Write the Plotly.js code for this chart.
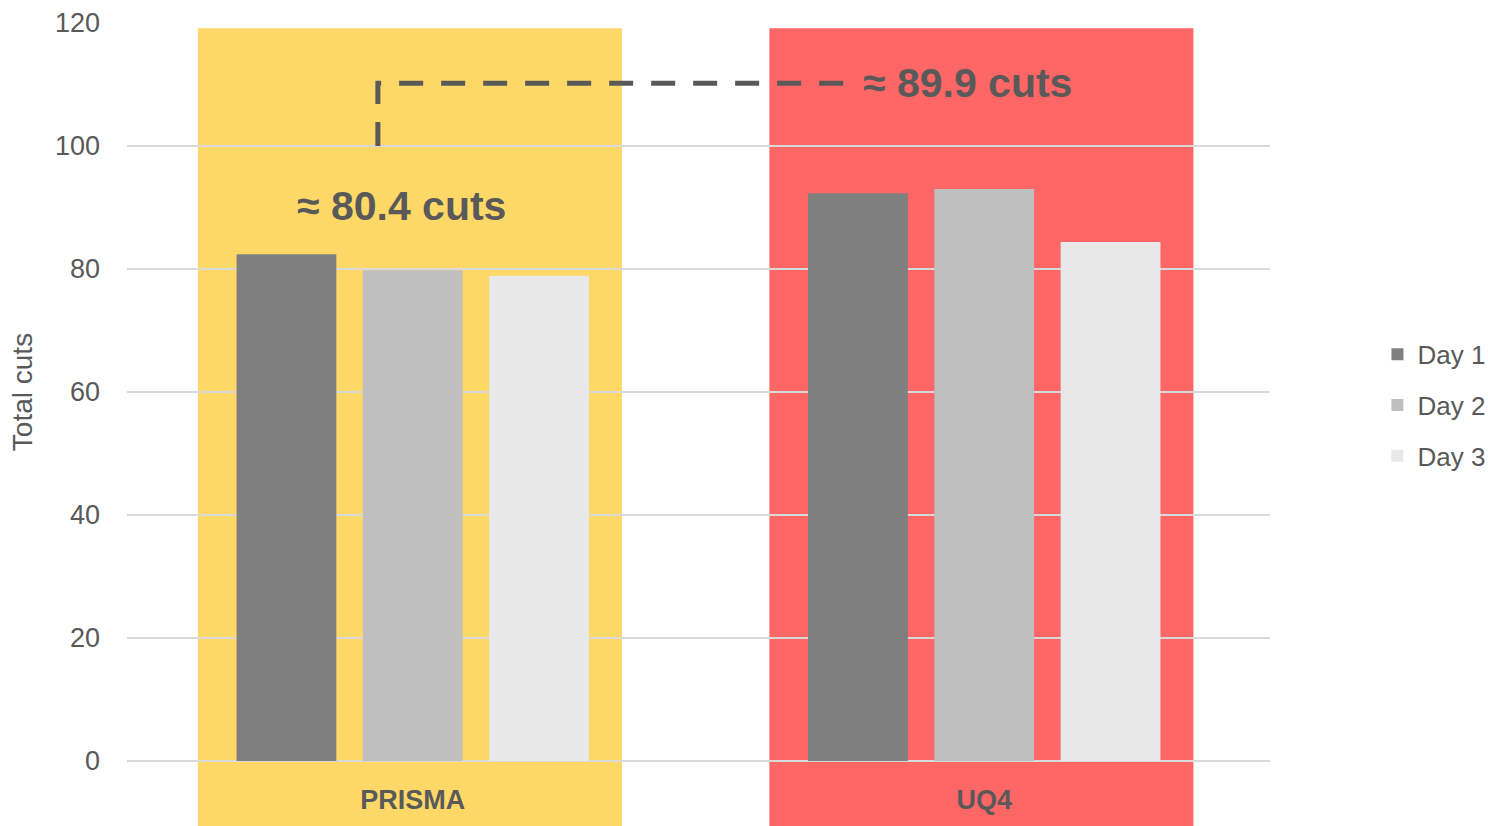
<!DOCTYPE html>
<html>
<head>
<meta charset="utf-8">
<script src="https://cdn.plot.ly/plotly-3.0.1.min.js"></script>
<style>
  html, body { margin: 0; padding: 0; background: #fff; }
  #chart { width: 1488px; height: 826px; }
</style>
</head>
<body>
<div id="chart"></div>
<script>
var categories = ['PRISMA', 'UQ4'];
var day1 = [82.4, 92.3];
var day2 = [79.8, 93.0];
var day3 = [78.9, 84.4];
var seriesNames = ['Day 1', 'Day 2', 'Day 3'];
var seriesColors = ['#7f7f7f', '#bfbfbf', '#e8e8e8'];
var panelColors = ['#fdd866', '#ff6666'];
var meanLabels = ['≈ 80.4 cuts', '≈ 89.9 cuts'];

var FONT = '"Liberation Sans Narrow", "Arial Narrow", "Liberation Sans", Arial, sans-serif';
var TXT = '#595959';

var values = [day1, day2, day3];
var data = values.map(function (v, i) {
  return {
    type: 'bar',
    x: categories,
    y: v,
    name: seriesNames[i],
    legendgroup: 'g' + i,
    marker: { color: seriesColors[i], line: { width: 0 } },
    hoverinfo: 'x+y+name'
  };
});

// coloured panels behind each category, running down past the axis
var shapes = categories.map(function (c, i) {
  return {
    type: 'rect', layer: 'below',
    xref: 'x', yref: 'paper',
    x0: i - 0.376, x1: i + 0.366,
    y0: -0.09, y1: 0.993,
    fillcolor: panelColors[i],
    line: { width: 0 }
  };
});

// dashed bracket from PRISMA up and across to UQ4 label
shapes.push({
  type: 'path', layer: 'above',
  xref: 'x', yref: 'y',
  path: 'M -0.061,100 L -0.061,110.2 L 0.765,110.2',
  line: { color: TXT, width: 5, dash: '24px,18px' }
});

var annotations = [
  {
    x: -0.02, y: 90.2, xref: 'x', yref: 'y',
    text: '<b>' + meanLabels[0] + '</b>',
    showarrow: false, xanchor: 'center', yanchor: 'middle',
    font: { family: FONT, size: 41, color: TXT }
  },
  {
    x: 0.785, y: 110.3, xref: 'x', yref: 'y',
    text: '<b>' + meanLabels[1] + '</b>',
    showarrow: false, xanchor: 'left', yanchor: 'middle',
    font: { family: FONT, size: 41, color: TXT }
  }
];

var layout = {
  width: 1488,
  height: 826,
  margin: { l: 127, r: 218, t: 23, b: 65, autoexpand: false },
  paper_bgcolor: '#ffffff',
  plot_bgcolor: 'rgba(0,0,0,0)',
  font: { family: FONT, color: TXT, size: 28 },
  barmode: 'group',
  bargap: 0.337,
  bargroupgap: 0.21,
  showlegend: true,
  legend: {
    x: 1.094, xanchor: 'left',
    y: 0.482, yanchor: 'middle',
    font: { family: FONT, size: 26, color: TXT },
    tracegroupgap: 14,
    bgcolor: 'rgba(0,0,0,0)'
  },
  xaxis: {
    type: 'category',
    range: [-0.5, 1.5],
    showgrid: false,
    showline: false,
    zeroline: false,
    ticks: '',
    tickfont: { family: FONT, size: 27, color: TXT, weight: 'bold' },
    ticklabelstandoff: 20
  },
  yaxis: {
    range: [0, 120],
    dtick: 20,
    showgrid: true,
    gridcolor: '#d9d9d9',
    gridwidth: 2,
    zeroline: true,
    zerolinecolor: '#d9d9d9',
    zerolinewidth: 2,
    showline: false,
    ticks: '',
    ticklabelstandoff: 26,
    tickfont: { family: FONT, size: 27, color: TXT },
    title: { text: 'Total cuts', font: { family: FONT, size: 28, color: TXT }, standoff: 14 }
  },
  shapes: shapes,
  annotations: annotations
};

Plotly.newPlot('chart', data, layout, { displayModeBar: false, staticPlot: true });
</script>
</body>
</html>
